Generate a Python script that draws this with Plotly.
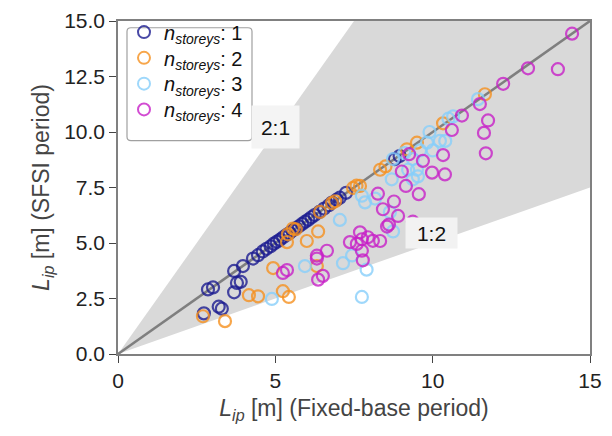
import plotly.graph_objects as go

# ---- data ----
n1_x = [2.73, 2.86, 3.02, 3.20, 3.30, 3.69, 3.78, 3.90, 3.69, 3.97, 4.29, 4.45, 4.60, 4.72, 4.85,
        4.95, 5.05, 5.15, 5.25, 5.35, 5.45, 5.55, 5.65, 5.75, 5.85, 5.95, 6.05, 6.15, 6.25, 6.40,
        6.55, 6.70, 6.80, 6.95, 7.05, 7.25, 8.80, 8.95]
n1_y = [1.83, 2.91, 3.00, 2.13, 2.04, 2.78, 3.20, 3.25, 3.74, 3.96, 4.30, 4.45, 4.62, 4.74, 4.85,
        4.97, 5.06, 5.15, 5.26, 5.36, 5.45, 5.56, 5.66, 5.75, 5.86, 5.96, 6.05, 6.16, 6.26, 6.40,
        6.55, 6.70, 6.82, 6.95, 7.04, 7.26, 8.78, 8.92]

n2_x = [2.70, 3.40, 4.16, 4.45, 4.93, 5.24, 5.43, 5.37, 5.40, 5.56, 5.65, 6.00, 6.36, 6.32, 6.42,
        6.80, 6.90, 7.47, 7.58, 7.69, 8.33, 8.50, 9.18, 9.50, 10.33, 11.66]
n2_y = [1.70, 1.48, 2.65, 2.60, 3.87, 2.83, 2.57, 5.04, 5.39, 5.65, 5.62, 5.09, 5.52, 3.96, 6.40,
        6.80, 6.88, 7.48, 7.58, 7.57, 8.30, 8.45, 9.22, 9.52, 10.39, 11.70]

n3_x = [4.89, 5.94, 7.05, 7.15, 7.44, 7.75, 7.90, 7.75, 7.85, 8.17, 8.74, 8.64, 8.70, 9.22, 9.37,
        9.37, 9.50, 9.53, 9.60, 9.82, 9.90, 10.00, 10.23, 10.40, 10.50, 10.65, 11.44, 8.74, 9.10]
n3_y = [2.48, 3.96, 6.04, 4.09, 4.44, 2.57, 3.80, 7.13, 6.83, 7.00, 5.52, 6.39, 7.87, 8.30, 7.87,
        8.78, 8.30, 8.00, 9.17, 9.52, 10.00, 9.17, 9.60, 9.60, 10.60, 10.70, 11.48, 8.78, 9.05]

n4_x = [14.43, 13.03, 13.98, 12.24, 11.50, 10.93, 11.76, 11.63, 11.69, 10.61, 10.33, 9.69, 9.25,
        9.98, 10.39, 9.02, 9.15, 9.56, 8.26, 8.77, 8.42, 8.90, 8.61, 8.55, 9.37, 7.69, 7.75, 7.94,
        7.37, 7.59, 8.33, 7.75, 7.78, 6.64, 6.32, 6.36, 6.51, 5.24, 5.37, 6.32, 8.10]
n4_y = [14.43, 12.87, 12.83, 12.17, 11.26, 10.74, 10.52, 9.96, 9.04, 10.09, 8.96, 8.70, 9.00,
        8.17, 8.09, 8.22, 7.57, 7.20, 7.22, 6.87, 6.52, 6.22, 5.83, 5.74, 5.96, 5.48, 5.17, 5.26,
        5.04, 4.96, 5.09, 4.65, 4.22, 4.65, 4.43, 3.35, 3.52, 3.65, 3.78, 4.30, 5.10]

series_names = ["1", "2", "3", "4"]
series_x = [n1_x, n2_x, n3_x, n4_x]
series_y = [n1_y, n2_y, n3_y, n4_y]
series_colors = ["#1c1c90", "#f5901e", "#87cefa", "#c71fc7"]

wedge_x = [0, 7.5, 15, 15, 0]
wedge_y = [0, 15, 15, 7.5, 0]
diag = [0, 15]

W, H = 612, 436
ML, MR, MT, MB = 118, 22, 9, 82
PW, PH = W - ML - MR, H - MT - MB


def px2paper(px, py):
    return (px - ML) / PW, (H - MB - py) / PH


fig = go.Figure()
fig.add_trace(go.Scatter(x=wedge_x, y=wedge_y, fill="toself", fillcolor="#d9d9d9",
                         line=dict(width=0), mode="lines", showlegend=False, hoverinfo="skip"))
fig.add_trace(go.Scatter(x=diag, y=diag, mode="lines", line=dict(color="#7f7f7f", width=2.5),
                         showlegend=False, hoverinfo="skip"))
legend_ids = ["legend", "legend2", "legend3", "legend4"]
for name, xs, ys, col, lid in zip(series_names, series_x, series_y, series_colors, legend_ids):
    fig.add_trace(go.Scatter(
        x=xs, y=ys, mode="markers",
        name="<i>n</i><sub><i>storeys</i></sub>: " + name,
        legend=lid,
        marker=dict(symbol="circle-open", size=12, color=col, opacity=0.8,
                    line=dict(width=2.2, color=col)),
    ))

fig.add_annotation(x=5.02, y=10.0, text="2:1", showarrow=False, yshift=5,
                   font=dict(size=21, color="#111111"), bgcolor="#f4f4f4",
                   width=47, height=42, borderpad=0)
fig.add_annotation(x=9.96, y=5.26, text="1:2", showarrow=False, yshift=4,
                   font=dict(size=21, color="#111111"), bgcolor="#f2f2f2",
                   width=51, height=30, borderpad=0)

# legend frame with rounded corners (matplotlib style)
x0, y1 = px2paper(127, 16)
x1, y0 = px2paper(252, 133)
rx, ry = 4 / PW, 4 / PH
path = (f"M {x0+rx},{y0} L {x1-rx},{y0} Q {x1},{y0} {x1},{y0+ry} "
        f"L {x1},{y1-ry} Q {x1},{y1} {x1-rx},{y1} L {x0+rx},{y1} "
        f"Q {x0},{y1} {x0},{y1-ry} L {x0},{y0+ry} Q {x0},{y0} {x0+rx},{y0} Z")
fig.add_shape(type="path", path=path, xref="paper", yref="paper",
              line=dict(color="#a0a0a0", width=1.2), fillcolor="rgba(255,255,255,0.85)",
              layer="above")

axis_common = dict(
    showgrid=False, zeroline=False, showline=True, mirror=True,
    linecolor="#808080", linewidth=1.5, ticks="outside", ticklen=7,
    tickcolor="#444444", tickfont=dict(size=21, color="#222222"),
    ticklabeloverflow="allow",
)
fig.update_xaxes(range=[0, 15], tickvals=[0, 5, 10, 15],
                 title=dict(text="<i>L</i><sub><i>ip</i></sub> [m] (Fixed-base period)",
                            font=dict(size=23, color="#444444"), standoff=9),
                 **axis_common)
fig.update_yaxes(range=[0, 15], tickvals=[0, 2.5, 5, 7.5, 10, 12.5, 15], tickformat=".1f",
                 title=dict(text="<i>L</i><sub><i>ip</i></sub> [m] (SFSI period)",
                            font=dict(size=23, color="#444444"), standoff=8),
                 **axis_common)

legend_layouts = {}
for i, lid in enumerate(legend_ids):
    lx, ly = px2paper(124, 20.5 + 26.7 * i)
    legend_layouts[lid] = dict(x=lx, y=ly, xanchor="left", yanchor="middle",
                               bgcolor="rgba(0,0,0,0)", borderwidth=0,
                               font=dict(size=20, color="#111111"),
                               itemsizing="constant")

fig.update_layout(
    width=W, height=H,
    margin=dict(l=ML, r=MR, t=MT, b=MB),
    paper_bgcolor="white", plot_bgcolor="white",
    font=dict(family="Liberation Sans, Arial, sans-serif"),
    **legend_layouts,
)

fig.write_html("out.html")
